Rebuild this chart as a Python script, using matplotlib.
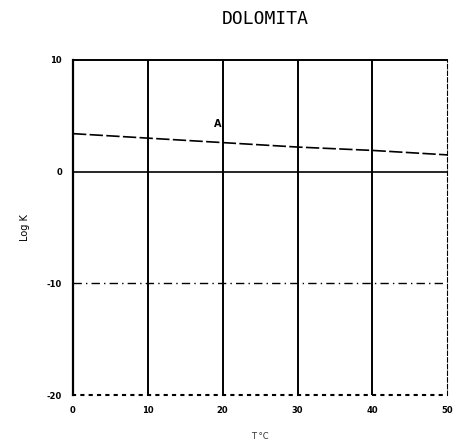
import numpy as np
import matplotlib
matplotlib.use('Agg')
import matplotlib.pyplot as plt

# temperatura (C) y log K de la dolomita
temp = [0, 10, 20, 30, 40, 50]
logk = [3.4, 3.0, 2.6, 2.2, 1.9, 1.5]
xticks = [0, 10, 20, 30, 40, 50]
yticks = [-20, -10, 0, 10]
ref_line = -10

fig = plt.figure(figsize=(4.62, 4.47), dpi=100)
ax = fig.add_axes([0.158, 0.116, 0.81, 0.75])

ax.plot(temp, logk, color='black', lw=1.2, ls=(0, (8, 2)))
ax.axhline(0, color='black', lw=1.2)
ax.axhline(ref_line, color='black', lw=1.0, ls=(0, (6, 3, 1, 3)))
for t in xticks[1:-1]:
    ax.axvline(t, color='black', lw=1.4)
ax.text(19.3, 4.3, 'A', fontsize=7, fontweight='bold', ha='center', va='center')

ax.set_xlim(0, 50)
ax.set_ylim(-20, 10)
ax.set_xticks(xticks)
ax.set_yticks(yticks)
ax.set_xticklabels([str(t) for t in xticks], fontsize=6, fontweight='bold')
ax.set_yticklabels([str(v) for v in yticks], fontsize=6, fontweight='bold')
ax.tick_params(length=0, pad=8)

ax.spines['bottom'].set_linestyle((0, (1, 3)))
ax.spines['bottom'].set_linewidth(1.5)
ax.spines['right'].set_linestyle((0, (4, 2)))
ax.spines['left'].set_linewidth(1.6)
ax.spines['top'].set_linewidth(1.4)

ax.set_xlabel('T \u00b0C', fontsize=6, labelpad=12, color='0.2')
ax.set_ylabel('Log K', fontsize=7, labelpad=12)
fig.text(0.575, 0.958, 'DOLOMITA', fontsize=13, family='DejaVu Sans Mono',
         ha='center', va='center')

fig.savefig('out.png', dpi=100)
